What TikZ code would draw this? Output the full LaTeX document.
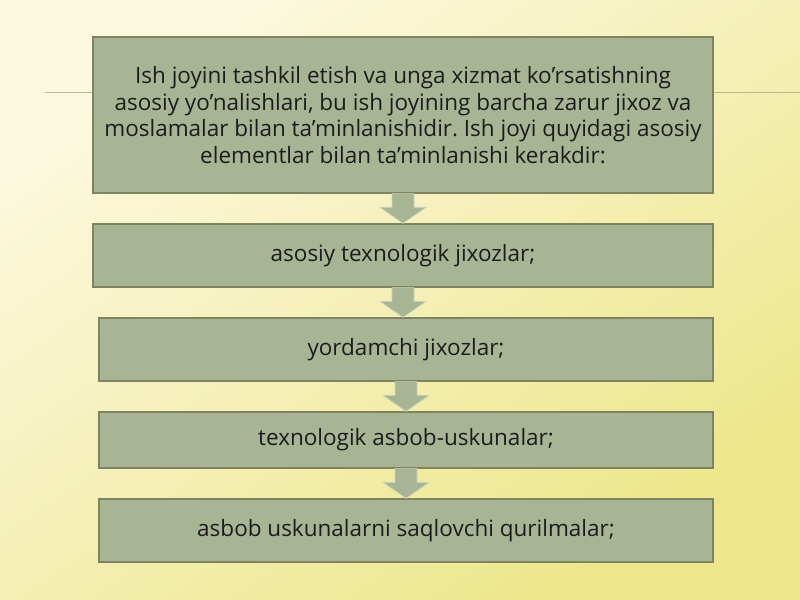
\documentclass[tikz,border=0pt]{standalone}
\usepackage{fontspec}
\setmainfont{Open Sans}
\usetikzlibrary{calc}
\frenchspacing

\definecolor{boxgreen}{HTML}{A8B594}
\definecolor{boxedge}{HTML}{7E8460}
\definecolor{bglight}{HTML}{FCF9E0}
\definecolor{bgdark}{HTML}{EDE68A}
\definecolor{ruleline}{HTML}{BAB894}
\definecolor{textdark}{HTML}{1C1C1C}

\tikzset{
  itembox/.style={draw=boxedge, line width=1.1pt, fill=boxgreen, text=textdark,
    align=center, inner sep=0pt, font=\fontsize{19.2}{22.6}\selectfont},
  arrowfill/.style={fill=boxgreen, draw=boxgreen!60!white, line width=0.6pt}
}
% block arrow from one box down to the next
\newcommand{\flowarrow}[2]{%
  \coordinate (tip) at (#1.south |- #2.north);
  \filldraw[arrowfill] ($(#1.south)+(-11,0)$) -- ($(#1.south)+(11,0)$)
    -- ($(tip)+(11,-16)$) -- ($(tip)+(23,-16)$) -- (tip)
    -- ($(tip)+(-23,-16)$) -- ($(tip)+(-11,-16)$) -- cycle;}

\begin{document}
\begin{tikzpicture}[x=0.03cm, y=-0.03cm]
  % background
  \useasboundingbox (0,0) rectangle (800,600);
  \shade[shading=axis, top color=bglight, bottom color=bgdark, shading angle=35]
    (0,0) rectangle (800,600);
  \draw[ruleline, line width=0.8pt] (45,92) -- (800,92);

  % boxes
  \node[itembox, minimum width=18.6cm, minimum height=4.68cm] (intro) at (403,115)
    {Ish joyini tashkil etish va unga xizmat ko’rsatishning\\
     asosiy yo’nalishlari, bu ish joyining barcha zarur jixoz va\\
     moslamalar bilan ta’minlanishidir. Ish joyi quyidagi asosiy\\
     elementlar bilan ta’minlanishi kerakdir:};
  \node[itembox, minimum width=18.6cm, minimum height=1.89cm] (main) at (403,255.5)
    {asosiy texnologik jixozlar;};
  \node[itembox, minimum width=18.42cm, minimum height=1.89cm] (aux) at (406,349.5)
    {yordamchi jixozlar;};
  \node[itembox, minimum width=18.42cm, minimum height=1.68cm] (tools) at (406,440)
    {texnologik asbob-uskunalar;};
  \node[itembox, minimum width=18.42cm, minimum height=1.89cm] (store) at (406,530.5)
    {asbob uskunalarni saqlovchi qurilmalar;};

  % arrows
  \flowarrow{intro}{main}
  \flowarrow{main}{aux}
  \flowarrow{aux}{tools}
  \flowarrow{tools}{store}
\end{tikzpicture}
\end{document}
